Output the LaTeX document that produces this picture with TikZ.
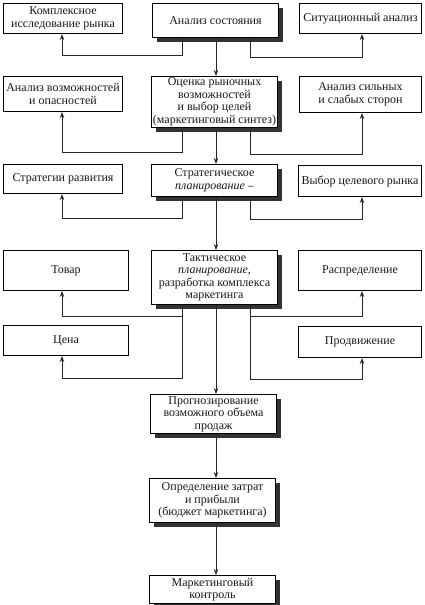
\documentclass[tikz,border=0pt]{standalone}
\usepackage{fontspec}
\setmainfont{Liberation Serif}
\usetikzlibrary{shadows,arrows.meta}
\begin{document}
\begin{tikzpicture}[x=1pt,y=-1pt,
 box/.style={draw=black, line width=1pt, fill=white, align=center, inner sep=0pt, anchor=north west, font=\fontsize{12}{12.5}\selectfont, text=black!90},
 sbox/.style={box, drop shadow={shadow xshift=4pt, shadow yshift=-4pt, fill=black!80, opacity=1}},
 arr/.style={draw=black!85, line width=1pt, -{Stealth[length=6pt,width=4.5pt]}}]
\fill[white] (0,0) rectangle (425,605);
\useasboundingbox (0,0) rectangle (425,605);
% column x coordinates
\coordinate (xL) at (62,0);
\coordinate (xCL) at (182,0);
\coordinate (xC) at (216,0);
\coordinate (xCR) at (250,0);
\coordinate (xR) at (362,0);
% row 1
\node[box, minimum width=119pt, minimum height=30pt] (kir) at (3,3) {Комплексное\\исследование рынка};
\node[sbox, minimum width=126pt, minimum height=34pt] (anal) at (152,3) {Анализ состояния};
\node[box, minimum width=122pt, minimum height=30pt] (sit) at (299,3) {Ситуационный анализ};
% row 2
\node[box, minimum width=119pt, minimum height=35pt] (avo) at (3,76) {Анализ возможностей\\и опасностей};
\node[sbox, minimum width=126pt, minimum height=51pt] (ocen) at (151,76) {Оценка рыночных\\возможностей\\и выбор целей\\(маркетинговый синтез)};
\node[box, minimum width=122pt, minimum height=36pt] (ass) at (299,76) {Анализ сильных\\и слабых сторон};
% row 3
\node[box, minimum width=119pt, minimum height=29pt] (strd) at (3,164) {Стратегии развития};
\node[sbox, minimum width=126pt, minimum height=32pt] (strp) at (151,164) {Стратегическое\\\textit{планирование} –};
\node[box, minimum width=123pt, minimum height=31pt] (vyb) at (298,165) {Выбор целевого рынка};
% row 4
\node[box, minimum width=125pt, minimum height=40pt] (tovar) at (3,250) {Товар};
\node[sbox, minimum width=126pt, minimum height=54pt] (takt) at (151,250) {Тактическое\\\textit{планирование},\\разработка комплекса\\маркетинга};
\node[box, minimum width=123pt, minimum height=40pt] (raspr) at (298,250) {Распределение};
% row 5
\node[box, minimum width=125pt, minimum height=30pt] (cena) at (3,325) {Цена};
\node[box, minimum width=123pt, minimum height=31pt] (prod) at (298,326) {Продвижение};
% lower column
\node[sbox, minimum width=126pt, minimum height=39pt] (prog) at (150,394) {Прогнозирование\\возможного объема\\продаж};
\node[sbox, minimum width=126pt, minimum height=44pt] (opr) at (149,478) {Определение затрат\\и прибыли\\(бюджет маркетинга)};
\node[sbox, minimum width=126pt, minimum height=28pt] (mk) at (149,575) {Маркетинговый\\контроль};
% connectors row 1
\draw[arr] (anal.south -| xCL) -- (182,55) -| (kir.south -| xL);
\draw[arr] (anal.south -| xCR) -- (250,57) -| (sit.south -| xR);
\draw[arr] (anal.south -| xC) -- (ocen.north -| xC);
% row 2
\draw[arr] (ocen.south -| xCL) -- (182,152) -| (avo.south -| xL);
\draw[arr] (ocen.south -| xCR) -- (250,154) -| (ass.south -| xR);
\draw[arr] (ocen.south -| xC) -- (strp.north -| xC);
% row 3
\draw[arr] (strp.south -| xCL) -- (182,218) -| (strd.south -| xL);
\draw[arr] (strp.south -| xCR) -- (250,219) -| (vyb.south -| xR);
\draw[arr] (strp.south -| xC) -- (takt.north -| xC);
% row 4
\draw[arr] (takt.south -| xCL) -- (182,316) -| (tovar.south -| xL);
\draw[arr] (takt.south -| xCR) -- (250,316) -| (raspr.south -| xR);
\draw[arr] (takt.south -| xCL) -- (182,378) -| (cena.south -| xL);
\draw[arr] (takt.south -| xCR) -- (250,379) -| (prod.south -| xR);
\draw[arr] (takt.south -| xC) -- (prog.north -| xC);
% lower
\draw[arr] (prog.south -| xC) -- (opr.north -| xC);
\draw[arr] (opr.south -| xC) -- (mk.north -| xC);
\end{tikzpicture}
\end{document}
